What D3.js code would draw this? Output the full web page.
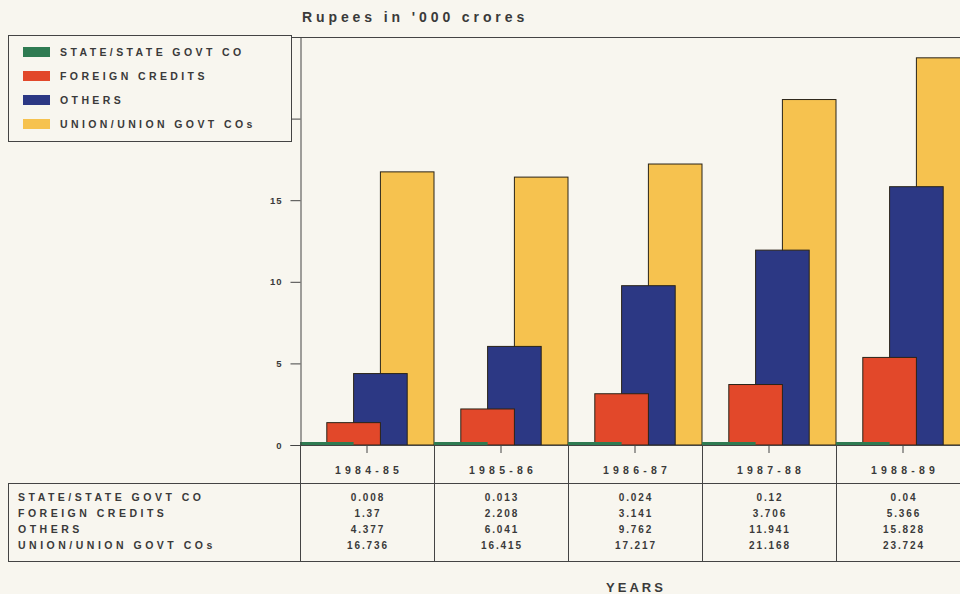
<!DOCTYPE html>
<html>
<head>
<meta charset="utf-8">
<script src="https://cdn.jsdelivr.net/npm/d3@7"></script>
<style>
  body { margin: 0; background: #f8f6ef; }
  svg { display: block; }
  text { font-family: "Liberation Sans", Arial, sans-serif; font-weight: bold; fill: #3a3a3a; }
</style>
</head>
<body>
<svg id="chart" width="960" height="594"></svg>
<script>
// data (Rupees in '000 crores)
var years = ["1984-85", "1985-86", "1986-87", "1987-88", "1988-89"];
var seriesNames = ["STATE/STATE GOVT CO", "FOREIGN CREDITS", "OTHERS", "UNION/UNION GOVT COs"];
var stateVals = [0.008, 0.013, 0.024, 0.12, 0.04];
var foreignVals = [1.37, 2.208, 3.141, 3.706, 5.366];
var otherVals = [4.377, 6.041, 9.762, 11.941, 15.828];
var unionVals = [16.736, 16.415, 17.217, 21.168, 23.724];
var tableLabels = ["0.008", "0.013", "0.024", "0.12", "0.04"];
var yTicks = [0, 5, 10, 15, 20, 25];

var colors = ["#2f7b52", "#e2482a", "#2c3884", "#f6c24f"];
var series = [stateVals, foreignVals, otherVals, unionVals];
var tableText = [
    tableLabels,
    foreignVals.map(String),
    otherVals.map(String),
    unionVals.map(String)
];

var svg = d3.select("#chart");
var line = "#444";

var x = d3.scaleBand().domain(years).range([300, 970]).paddingInner(0).paddingOuter(0);
var y = d3.scaleLinear().domain([0, 25]).range([445, 37]);
var step = x.bandwidth() / 5,   // offset between overlapping bars
    barW = step * 2;

// title
svg.append("text")
    .attr("x", 302).attr("y", 22)
    .style("font-size", "14px").style("letter-spacing", "3.9px")
    .text("Rupees in '000  crores");

// top frame line
svg.append("line")
    .attr("x1", 292).attr("x2", 960).attr("y1", 37.5).attr("y2", 37.5)
    .attr("stroke", line).attr("stroke-width", 1);

// bars: draw back (union) to front (state)
for (var s = series.length - 1; s >= 0; s--) {
    svg.append("g").selectAll("rect")
        .data(series[s])
        .enter()
        .append("rect")
        .attr("x", function (d, i) { return x(years[i]) + s * step; })
        .attr("width", barW)
        .attr("y", function (d) { return Math.min(y(d), y(0) - 3); })
        .attr("height", function (d) { return Math.max(y(0) - y(d), 3); })
        .attr("fill", colors[s])
        .attr("stroke", s == 0 ? "none" : "#2a2418")
        .attr("stroke-width", 1);
}

// y axis (labels of 20 and 25 sit under the legend box)
var yAxis = svg.append("g")
    .attr("transform", "translate(300.5,0)")
    .call(d3.axisLeft(y).tickValues(yTicks).tickSize(10).tickPadding(8)
        .tickFormat(function (d) { return d > 15 ? "" : d; }));
yAxis.select(".domain").attr("stroke", line);
yAxis.selectAll(".tick line").attr("stroke", line);
yAxis.selectAll(".tick text")
    .style("font-size", "9.5px").style("font-family", "Liberation Sans, Arial").style("font-weight", "bold")
    .style("letter-spacing", "1px")
    .attr("fill", "#3a3a3a");

// x baseline
svg.append("line")
    .attr("x1", 300).attr("x2", 960).attr("y1", y(0) + 0.5).attr("y2", y(0) + 0.5)
    .attr("stroke", line);

// category tick marks
svg.append("g").selectAll("line")
    .data(years)
    .enter()
    .append("line")
    .attr("x1", function (d) { return x(d) + x.bandwidth() / 2; })
    .attr("x2", function (d) { return x(d) + x.bandwidth() / 2; })
    .attr("y1", y(0)).attr("y2", y(0) + 8)
    .attr("stroke", line);

// data table
var headTop = 445, headBot = 483.5, tableBot = 561.5;
svg.append("rect")
    .attr("x", 8.5).attr("y", headBot).attr("width", 1000).attr("height", tableBot - headBot)
    .attr("fill", "none").attr("stroke", line);

svg.append("g").selectAll("line")
    .data(years)
    .enter()
    .append("line")
    .attr("x1", function (d) { return Math.round(x(d)) + 0.5; })
    .attr("x2", function (d) { return Math.round(x(d)) + 0.5; })
    .attr("y1", headTop).attr("y2", tableBot)
    .attr("stroke", line);

svg.append("g").selectAll("text")
    .data(years)
    .enter()
    .append("text")
    .attr("x", function (d) { return x(d) + x.bandwidth() / 2 + 2; })
    .attr("y", 474)
    .attr("text-anchor", "middle")
    .style("font-size", "10.5px").style("letter-spacing", "4.2px")
    .text(function (d) { return d; });

var rowY = [501, 517, 533, 549];

svg.append("g").selectAll("text")
    .data(seriesNames)
    .enter()
    .append("text")
    .attr("x", 18)
    .attr("y", function (d, i) { return rowY[i]; })
    .style("font-size", "10.5px").style("letter-spacing", "3.5px")
    .text(function (d) { return d; });

tableText.forEach(function (row, r) {
    svg.append("g").selectAll("text")
        .data(row)
        .enter()
        .append("text")
        .attr("x", function (d, i) { return x(years[i]) + x.bandwidth() / 2 + 1; })
        .attr("y", rowY[r])
        .attr("text-anchor", "middle")
        .style("font-size", "10px").style("letter-spacing", "1.9px")
        .text(function (d) { return d; });
});

// x title
svg.append("text")
    .attr("x", 636).attr("y", 592)
    .attr("text-anchor", "middle")
    .style("font-size", "13px").style("letter-spacing", "3px")
    .text("YEARS");

// legend (covers upper tick labels, as in the original)
var legend = svg.append("g");
legend.append("rect")
    .attr("x", 8.5).attr("y", 35.5).attr("width", 283).attr("height", 106)
    .attr("fill", "#f8f6ef").attr("stroke", line);

var item = legend.selectAll("g.item")
    .data(seriesNames)
    .enter()
    .append("g")
    .attr("class", "item")
    .attr("transform", function (d, i) { return "translate(0," + (52 + i * 24) + ")"; });

item.append("rect")
    .attr("x", 23).attr("y", -5).attr("width", 27).attr("height", 10)
    .attr("fill", function (d, i) { return colors[i]; });

item.append("text")
    .attr("x", 60).attr("y", 4)
    .style("font-size", "10.5px").style("letter-spacing", "3.4px")
    .text(function (d) { return d; });
</script>
</body>
</html>
